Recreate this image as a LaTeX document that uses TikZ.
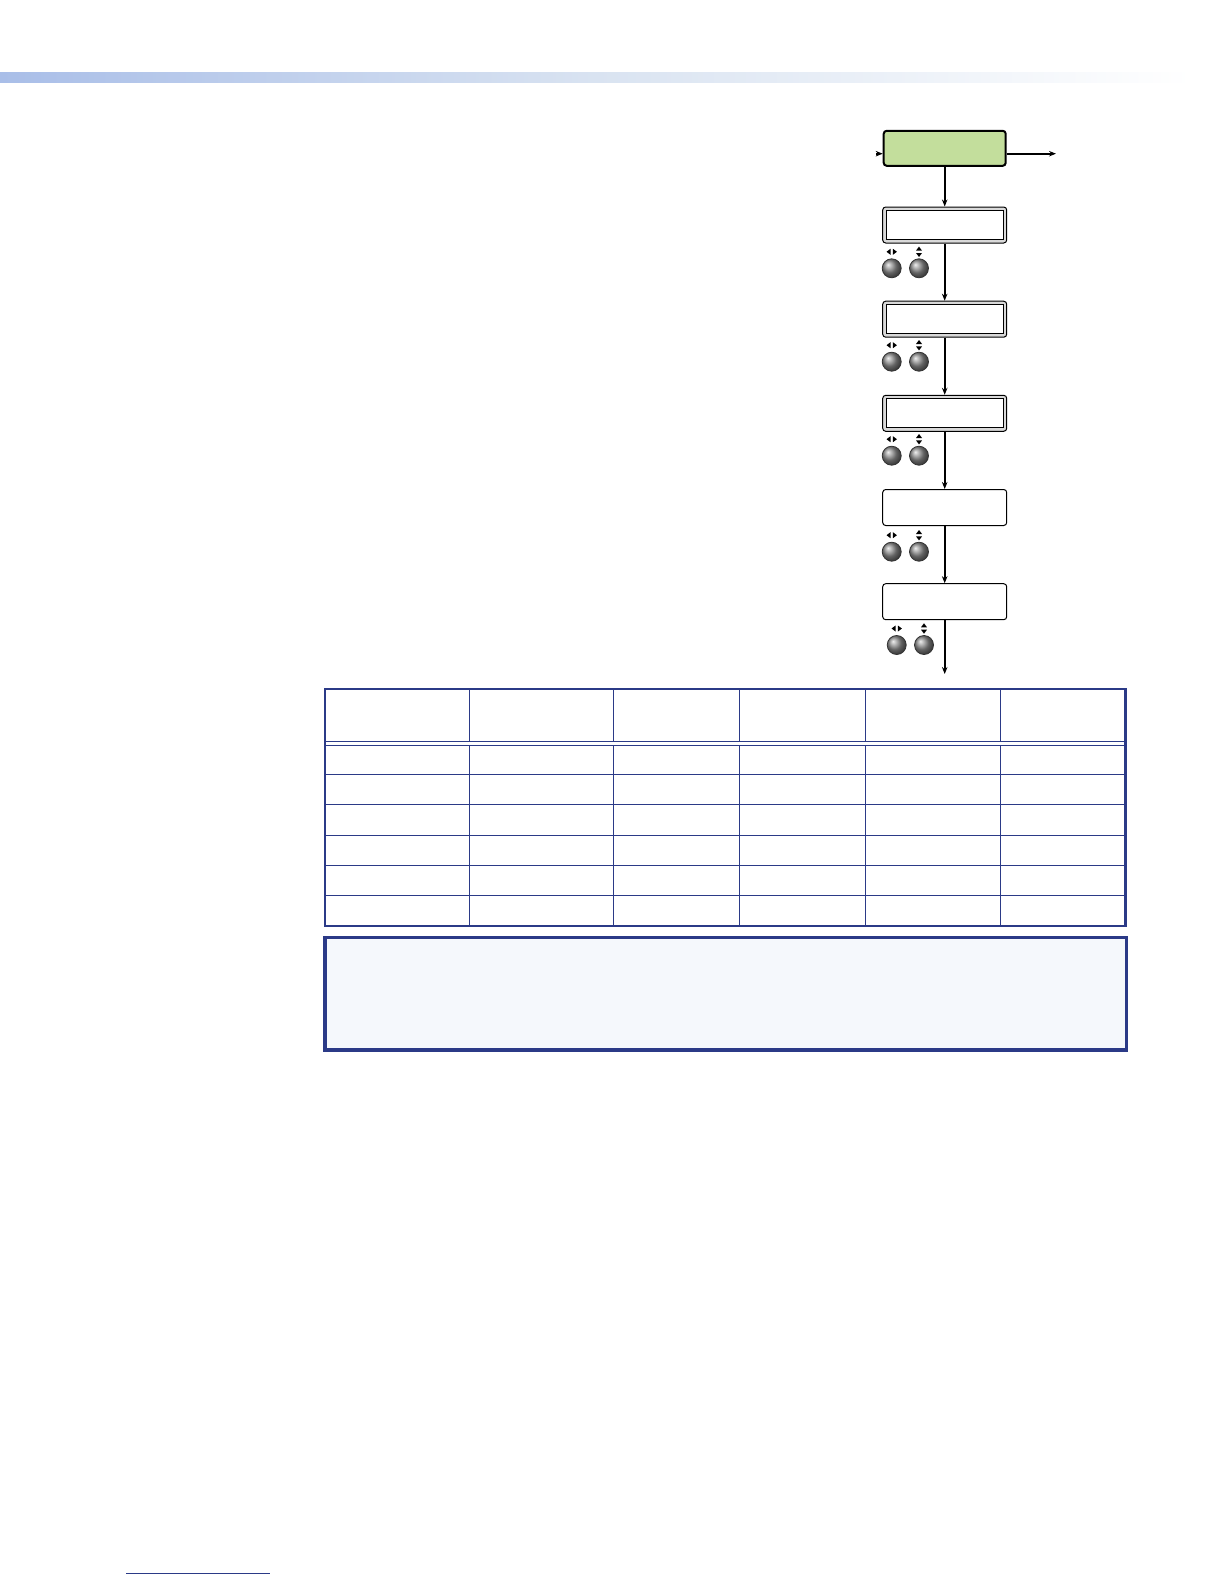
\documentclass[tikz,border=0pt]{standalone}
\usetikzlibrary{arrows.meta,shadings,calc}
\definecolor{tblue}{HTML}{2B3A87}
\definecolor{lcdgreen}{HTML}{C3DE9C}
\definecolor{notefill}{HTML}{F5F8FC}
\definecolor{barA}{HTML}{A9BEE8}
\definecolor{barB}{HTML}{D9E3F1}
\tikzset{
  greenbox/.style={draw=black, line width=2pt, fill=lcdgreen, rounded corners=3pt, minimum width=122pt, minimum height=35pt, inner sep=0pt},
  lcdbox/.style={draw=black, line width=1pt, fill=black!15, rounded corners=3pt, minimum width=124pt, minimum height=36pt, inner sep=0pt},
  lcdin/.style={draw=black, line width=1pt, fill=white, minimum width=117pt, minimum height=29pt, inner sep=0pt},
  plainbox/.style={draw=black, line width=1pt, fill=white, rounded corners=3pt, minimum width=124pt, minimum height=36pt, inner sep=0pt},
  knob/.style={circle, draw=black!80, line width=0.8pt, ball color=black!45, minimum size=19pt, inner sep=0pt},
  flow/.style={line width=1.8pt, -{Stealth[length=7pt,width=5.5pt]}},
  tline/.style={draw=tblue, line width=1.4pt},
  tframe/.style={draw=tblue, line width=2.8pt},
}
\newcommand{\lrico}[1]{%
  \fill[black] ($(#1)+(-5.2,0)$) -- ++(4,-3) -- ++(0,6) -- cycle;
  \fill[black] ($(#1)+(5.2,0)$) -- ++(-4,-3) -- ++(0,6) -- cycle;}
\newcommand{\udico}[1]{%
  \fill[black] ($(#1)+(0,-5.2)$) -- ++(-3,4) -- ++(6,0) -- cycle;
  \fill[black] ($(#1)+(0,5.2)$) -- ++(-3,-4) -- ++(6,0) -- cycle;}
\begin{document}
\begin{tikzpicture}[x=1pt,y=-1pt]
\useasboundingbox (0,0) rectangle (1224,1584);
% top gradient bar
\shade[left color=barA, right color=white, middle color=barB, draw=none] (0,72.7) rectangle (1192,82.8);
% flow boxes
\node[greenbox] (g) at (944.7,148.3) {};
\node[lcdbox] (b2) at (944.7,225) {};
\node[lcdin] at (b2) {};
\node[lcdbox] (b3) at (944.7,319.2) {};
\node[lcdin] at (b3) {};
\node[lcdbox] (b4) at (944.7,413.3) {};
\node[lcdin] at (b4) {};
\node[plainbox] (b5) at (944.7,507.5) {};
\node[plainbox] (b6) at (944.7,601.7) {};
\coordinate (inl) at (876,153.7);
\coordinate (outr) at (1056,153.7);
\coordinate (endb) at (944.7,674);
\draw[flow] (inl) -- (g.west |- inl);
\draw[flow] (g.east |- outr) -- (outr);
\draw[flow] (g) -- (b2);
\draw[flow] (b2) -- (b3);
\draw[flow] (b3) -- (b4);
\draw[flow] (b4) -- (b5);
\draw[flow] (b5) -- (b6);
\draw[flow] (b6.south) -- (endb);
% knobs
\foreach \n/\y/\dx in {a/268.3/0, b/361.7/0, c/455.7/0, d/551.7/0, e/645/5}{
  \node[knob] (k1\n) at (891.7+\dx,\y) {};
  \node[knob] (k2\n) at (919+\dx,\y) {};
  \coordinate (i1\n) at (891.7+\dx,\y-16.5);
  \coordinate (i2\n) at (919+\dx,\y-16.5);
  \lrico{i1\n}
  \udico{i2\n}
}
% table
\foreach \x in {469.3,613.3,739.3,865.7,1000.3}{
  \draw[tline] (\x,689) -- (\x,741.3);
  \draw[tline] (\x,745.3) -- (\x,926);
}
\draw[tline] (325,741.3) -- (1125.7,741.3);
\draw[tline] (325,745.3) -- (1125.7,745.3);
\foreach \y in {774.3,804.3,835.3,865.3,895.3}{
  \draw[tline] (325,\y) -- (1125.7,\y);
}
\draw[tframe] (325,689) rectangle (1125.7,926);
% note box
\draw[tframe, line width=3.2pt, fill=notefill] (325,937.5) rectangle (1126.5,1050);
% footnote rule
\draw[tblue, line width=1pt] (126,1573.5) -- (270,1573.5);
\end{tikzpicture}
\end{document}
